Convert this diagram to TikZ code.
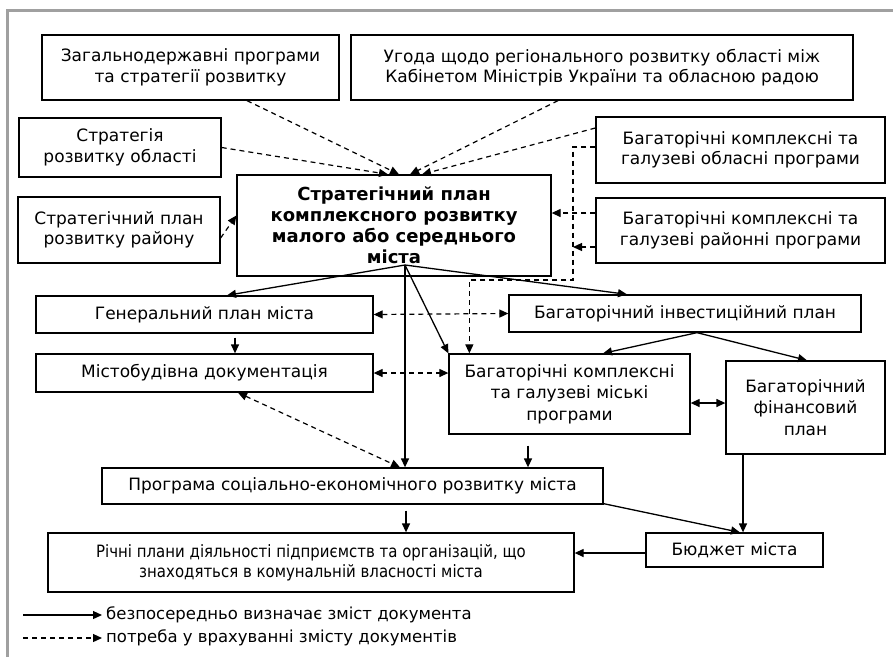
\documentclass[tikz,border=0pt]{standalone}
\usepackage{fontspec}
\setmainfont{DejaVu Sans}
\newfontfamily\condfont[FakeStretch=0.88]{DejaVu Sans}
\usetikzlibrary{arrows.meta,calc}
\tikzset{
  box/.style={draw, line width=1.3pt, align=center, inner sep=2pt, font=\fontsize{17}{20.5}\selectfont},
  condbox/.style={box, font=\condfont\fontsize{17}{20}\selectfont},
  solidarr/.style={line width=1.3pt, -{Triangle[length=9pt,width=8pt]}},
  dasharr/.style={line width=1.2pt, dash pattern=on 5pt off 4pt, -{Triangle[length=9pt,width=8pt]}},
  dashboth/.style={line width=1.2pt, dash pattern=on 5pt off 4pt, {Triangle[length=9pt,width=8pt]}-{Triangle[length=9pt,width=8pt]}},
  solidboth/.style={line width=1.3pt, {Triangle[length=9pt,width=8pt]}-{Triangle[length=9pt,width=8pt]}},
  legendtext/.style={anchor=west, inner sep=4pt, font=\fontsize{16.5}{20}\selectfont}
}
\begin{document}
\begin{tikzpicture}[x=1pt,y=-1pt]
\useasboundingbox (0,0) rectangle (893,657);
\draw[color={rgb,255:red,160;green,160;blue,160}, line width=3pt] (7,657) -- (7,10) -- (893,10);

% boxes
\node[box, minimum width=297pt, minimum height=65pt] (zag) at (190.5,67.5) {Загальнодержавні програми\\та стратегії розвитку};
\node[box, minimum width=502pt, minimum height=65pt] (ugoda) at (602,67.5) {Угода щодо регіонального розвитку області між\\Кабінетом Міністрів України та обласною радою};
\node[box, minimum width=202pt, minimum height=59pt] (strobl) at (120,147.5) {Стратегія\\розвитку області};
\node[box, minimum width=289pt, minimum height=66pt] (bagobl) at (740.5,150) {Багаторічні комплексні та\\галузеві обласні програми};
\node[box, minimum width=314pt, minimum height=101pt, font=\bfseries\fontsize{18}{21}\selectfont] (main) at (394,225.5) {Стратегічний план\\комплексного розвитку\\малого або середнього\\міста};
\node[box, minimum width=202pt, minimum height=66pt] (strray) at (119,230) {Стратегічний план\\розвитку району};
\node[box, minimum width=289pt, minimum height=65pt] (bagray) at (740.5,230.5) {Багаторічні комплексні та\\галузеві районні програми};
\node[box, minimum width=337pt, minimum height=37pt] (genplan) at (204.5,314.5) {Генеральний план міста};
\node[box, minimum width=352pt, minimum height=37pt] (invest) at (685,313.5) {Багаторічний інвестиційний план};
\node[box, minimum width=337pt, minimum height=38pt] (mistobud) at (204.5,373) {Містобудівна документація};
\node[box, minimum width=241pt, minimum height=80pt, font=\fontsize{17}{21.5}\selectfont] (misk) at (569.5,394) {Багаторічні комплексні\\та галузеві міські\\програми};
\node[box, minimum width=159pt, minimum height=93pt, font=\fontsize{17}{21.5}\selectfont] (fin) at (805.5,407.5) {Багаторічний\\фінансовий\\план};
\node[box, minimum width=501pt, minimum height=36pt] (prog) at (352.5,486) {Програма соціально-економічного розвитку міста};
\node[condbox, minimum width=526pt, minimum height=59pt] (richni) at (311,562.5) {Річні плани діяльності підприємств та організацій, що\\знаходяться в комунальній власності міста};
\node[box, minimum width=177pt, minimum height=34pt] (budget) at (734.5,550) {Бюджет міста};

% dashed inputs to main box
\draw[dasharr] ($(zag.south)+(56.5,0)$) -- ($(main.north)+(5,0)$);
\draw[dasharr] (strobl.east) -- ($(main.north)+(-6,0)$);
\draw[dasharr] ($(ugoda.south)+(-44,0)$) -- ($(main.north)+(16,0)$);
\draw[dasharr] ($(bagobl.west)+(0,-22)$) -- ($(main.north)+(28,0)$);
\coordinate (bendA) at (573,280);
\coordinate (joinB) at (573,247);
\draw[dasharr] ($(bagobl.west)+(0,-3)$) -| (bendA) -| ($(misk.north west)+(21,0)$);
\draw[dasharr] ($(bagray.west)+(0,-17.5)$) -- ($(main.east)+(0,-12.5)$);
\draw[dasharr] ($(bagray.west)+(0,16.5)$) -- (joinB);
\draw[dasharr] ($(strray.east)+(0,8)$) -- ($(main.west)+(0,-10)$);

% solid from main
\coordinate (S) at (405,265);
\draw[solidarr] (S) -- ($(genplan.north)+(22.5,0)$);
\draw[solidarr] (S) -- ($(invest.north)+(-58,0)$);
\draw[solidarr] (S) -- (misk.north west);
\draw[solidarr] (S) -- (S |- prog.north);

\draw[solidarr, shorten <=4pt] ($(genplan.south)+(30.5,0)$) -- ($(mistobud.north)+(30.5,0)$);
\draw[dashboth] (genplan.east) -- (invest.west);
\draw[dashboth] (mistobud.east) -- ($(misk.west)+(0,-21)$);
\draw[solidarr] ($(invest.south)+(12,0)$) -- ($(misk.north)+(33.5,0)$);
\draw[solidarr] ($(invest.south)+(12,0)$) -- ($(fin.north)+(1.5,0)$);
\draw[solidboth] ($(misk.east)+(0,9)$) -- ($(fin.west)+(0,-4.5)$);
\draw[solidarr, shorten <=11pt] ($(misk.south)+(-41.5,0)$) -- ($(prog.north)+(175.5,0)$);
\draw[dashboth] ($(mistobud.south)+(33.5,0)$) -- ($(prog.north)+(47.5,0)$);
\draw[solidarr] ($(fin.south)+(-62.5,0)$) -- ($(budget.north)+(8.5,0)$);
\draw[solidarr] ($(prog.south east)+(0,-1)$) -- ($(budget.north)+(5.5,0)$);
\draw[solidarr, shorten <=6pt] ($(prog.south)+(53.5,0)$) -- ($(richni.north)+(95,0)$);
\draw[solidarr] ($(budget.west)+(0,3)$) -- ($(richni.east)+(0,-9.5)$);

% legend
\coordinate (l1a) at (23,615);
\coordinate (l2a) at (23,638);
\node[legendtext] (l1t) at (102,615) {безпосередньо визначає зміст документа};
\node[legendtext] (l2t) at (102,638) {потреба у врахуванні змісту документів};
\draw[solidarr] (l1a) -- (l1t.west);
\draw[dasharr] (l2a) -- (l2t.west);
\end{tikzpicture}
\end{document}
